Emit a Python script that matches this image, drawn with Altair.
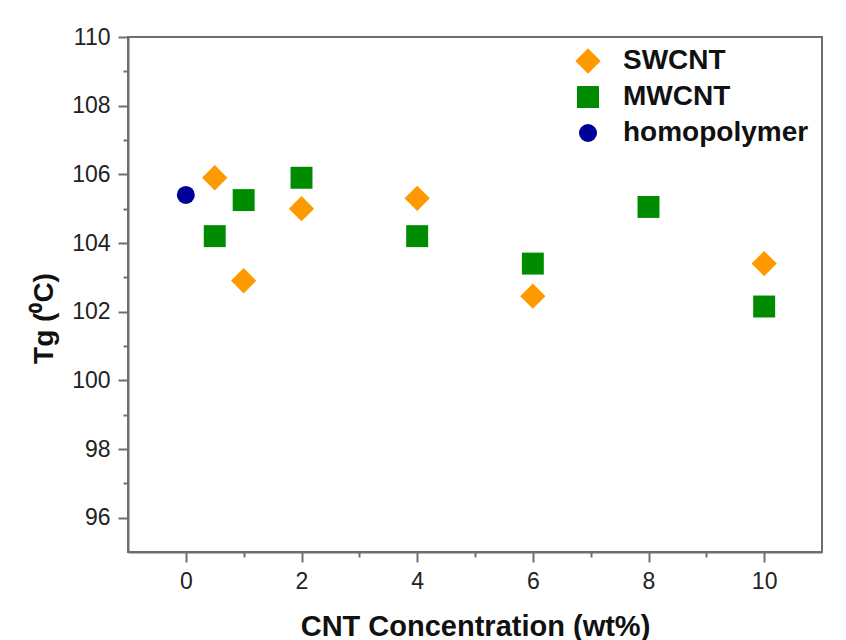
import altair as alt
import pandas as pd

# ---- data ----
sw_x = [0.5, 1, 2, 4, 6, 10]
sw_y = [105.9, 102.9, 105.0, 105.3, 102.45, 103.4]
mw_x = [0.5, 1, 2, 4, 6, 8, 10]
mw_y = [104.2, 105.25, 105.9, 104.2, 103.4, 105.05, 102.15]
homo_x = [0]
homo_y = [105.4]

series = ["SWCNT", "MWCNT", "homopolymer"]
colors = ["#FF9900", "#008C00", "#000099"]
shapes = ["diamond", "square", "circle"]
sizes = [640, 324, 400]

x_ticks = list(range(0, 11))
y_ticks = list(range(96, 111))

rows = []
for name, xs, ys in [("SWCNT", sw_x, sw_y), ("MWCNT", mw_x, mw_y), ("homopolymer", homo_x, homo_y)]:
    for a, b in zip(xs, ys):
        rows.append({"x": a, "y": b, "series": name})
df = pd.DataFrame(rows)

FONT = "Liberation Sans"
AXIS_GRAY = "#6e6e6e"
minor_tick = {"condition": {"test": "datum.value % 2 != 0", "value": 5}, "value": 10}
even_label = "datum.value % 2 == 0 ? datum.label : ''"

legend = alt.Legend(
    title=None, orient="none", legendX=446, legendY=10,
    labelFont=FONT, labelFontSize=28, labelFontWeight="bold", labelColor="#111111",
    labelOffset=21, rowPadding=8, labelLimit=400, symbolStrokeWidth=0, symbolOpacity=1,
)

chart = alt.Chart(df).mark_point(filled=True, opacity=1, strokeWidth=0).encode(
    x=alt.X("x:Q",
            scale=alt.Scale(domain=[-1, 11], nice=False, zero=False),
            axis=alt.Axis(values=x_ticks, labelExpr=even_label, tickSize=minor_tick,
                          title="CNT Concentration (wt%)", titleFont=FONT, titleFontSize=29,
                          titleFontWeight="bold", titleColor="#111111", titleY=83,
                          titleBaseline="alphabetic",
                          labelFont=FONT, labelFontSize=23, labelColor="#222222",
                          labelPadding=8, grid=False, domainColor=AXIS_GRAY, domainWidth=2,
                          tickColor=AXIS_GRAY, tickWidth=2)),
    y=alt.Y("y:Q",
            scale=alt.Scale(domain=[95, 110], nice=False, zero=False),
            axis=alt.Axis(values=y_ticks, labelExpr=even_label, tickSize=minor_tick,
                          title="Tg (⁰C)", titleFont=FONT, titleFontSize=28,
                          titleFontWeight="bold", titleColor="#111111",
                          titleX=-76, titleY=281, titleAngle=-90, titleAlign="center",
                          titleBaseline="alphabetic",
                          labelFont=FONT, labelFontSize=23, labelColor="#222222",
                          labelPadding=8, grid=False, domainColor=AXIS_GRAY, domainWidth=2,
                          tickColor=AXIS_GRAY, tickWidth=2)),
    color=alt.Color("series:N", scale=alt.Scale(domain=series, range=colors), legend=legend),
    shape=alt.Shape("series:N", scale=alt.Scale(domain=series, range=shapes), legend=legend),
    size=alt.Size("series:N", scale=alt.Scale(domain=series, range=sizes), legend=legend),
).properties(
    width=694, height=515,
    padding={"left": 120, "top": 29, "right": 16, "bottom": 90},
    autosize=alt.AutoSizeParams(type="none"),
    background="white",
).configure_view(stroke=AXIS_GRAY, strokeWidth=2)

chart.save("out.html", embed_options={"renderer": "svg", "actions": False})
